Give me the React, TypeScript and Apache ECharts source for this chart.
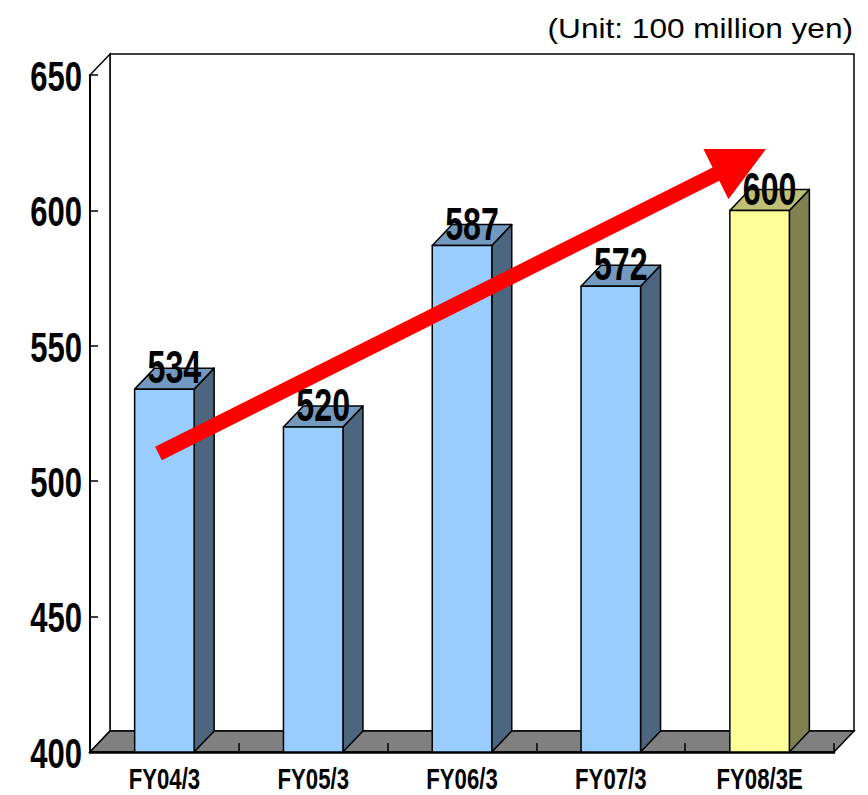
import React, { useEffect, useRef } from "react";
import * as echarts from "echarts";

// Fiscal years and sales (100 million yen); the last one is an estimate.
const categories = ["FY04/3", "FY05/3", "FY06/3", "FY07/3", "FY08/3E"];
const sales = [534, 520, 587, 572, 600];
const yTicks = [400, 450, 500, 550, 600, 650];
const unitLabel = "(Unit: 100 million yen)";

// Plot frame and pseudo-3D depth offset
const W = 868;
const H = 795;
const GL = 90;
const GT = 75;
const GR = 834;
const GB = 752;
const DX = 20;
const DY = -21;

const FONT = "'Liberation Sans', Arial, Helvetica, sans-serif";

const blueFaces = { front: "#99CCFF", side: "#4D6680", top: "#7399BF" };
const yellowFaces = { front: "#FFFF99", side: "#808050", top: "#BFBF73" };

// Condensed bold text (narrow face emulated with a horizontal scale)
function narrowText(x: number, y: number, text: string, fontSize: number, scaleX: number, align: string) {
  return {
    type: "text",
    x,
    y,
    scaleX,
    style: {
      text,
      fill: "#000",
      fontSize,
      fontWeight: "bold",
      fontFamily: FONT,
      align,
      verticalAlign: "middle",
    },
  };
}

function arrowPoints(sx: number, sy: number, tx: number, ty: number, shaft: number, headLen: number, headHalf: number) {
  const len = Math.hypot(tx - sx, ty - sy);
  const ux = (tx - sx) / len;
  const uy = (ty - sy) / len;
  const nx = -uy;
  const ny = ux;
  const bx = tx - ux * headLen;
  const by = ty - uy * headLen;
  const h = shaft / 2;
  return [
    [sx + nx * h, sy + ny * h],
    [bx + nx * h, by + ny * h],
    [bx + nx * headHalf, by + ny * headHalf],
    [tx, ty],
    [bx - nx * headHalf, by - ny * headHalf],
    [bx - nx * h, by - ny * h],
    [sx - nx * h, sy - ny * h],
  ];
}

export default function App() {
  const ref = useRef<HTMLDivElement>(null);

  useEffect(() => {
    if (!ref.current) return;
    const chart = echarts.init(ref.current, undefined, { renderer: "svg" });
    const yMin = yTicks[0];

    chart.setOption({
      animation: false,
      backgroundColor: "#ffffff",
      grid: { left: GL, top: GT, right: W - GR, bottom: H - GB, containLabel: false },
      xAxis: {
        type: "category",
        data: categories,
        z: 3,
        axisLine: { show: true, lineStyle: { color: "#000", width: 2.5 } },
        axisTick: { show: true, inside: true, length: 9, lineStyle: { color: "#000", width: 1.5 } },
        axisLabel: { show: false },
        splitLine: { show: false },
      },
      yAxis: {
        type: "value",
        min: yMin,
        max: yTicks[yTicks.length - 1],
        interval: yTicks[1] - yTicks[0],
        z: 3,
        axisLine: { show: true, lineStyle: { color: "#000", width: 2 } },
        axisTick: { show: true, inside: true, length: 8, lineStyle: { color: "#000", width: 1.5 } },
        axisLabel: { show: false },
        splitLine: { show: false },
      },
      graphic: [
        {
          type: "rect",
          z: 1,
          shape: { x: GL + DX, y: GT + DY, width: GR - GL, height: GB - GT },
          style: { fill: "#ffffff", stroke: "#000", lineWidth: 1.5 },
        },
        {
          type: "polygon",
          z: 1,
          shape: { points: [[GL, GT], [GL + DX, GT + DY], [GL + DX, GB + DY], [GL, GB]] },
          style: { fill: "#ffffff", stroke: "#000", lineWidth: 1.5 },
        },
        {
          type: "polygon",
          z: 1,
          shape: { points: [[GL, GB], [GL + DX, GB + DY], [GR + DX, GB + DY], [GR, GB]] },
          style: { fill: "#808080", stroke: "#000", lineWidth: 1.5 },
        },
        {
          type: "polygon",
          z: 10,
          shape: { points: arrowPoints(158.5, 453.5, 766, 149, 15, 56, 28) },
          style: { fill: "#FF0000" },
        },
        {
          type: "text",
          z: 10,
          x: 853,
          y: 28,
          scaleX: 1.17,
          style: {
            text: unitLabel,
            fill: "#000",
            fontSize: 27,
            fontFamily: FONT,
            align: "right",
            verticalAlign: "middle",
          },
        },
      ],
      series: [
        {
          // 3D bars with value and category labels
          type: "custom",
          z: 4,
          clip: false,
          data: sales.map((v, i) => [i, v]),
          renderItem: (params: any, api: any) => {
            const idx = api.value(0);
            const v = api.value(1);
            const top = api.coord([idx, v]);
            const base = api.coord([idx, yMin]);
            const bw = api.size([1, 0])[0] * 0.4;
            const x0 = top[0] - bw / 2;
            const x1 = top[0] + bw / 2;
            const yT = top[1];
            const yB = base[1];
            const faces = /E$/.test(categories[idx]) ? yellowFaces : blueFaces;
            const edge = { stroke: "#000", lineWidth: 1.5, lineJoin: "round" };
            return {
              type: "group",
              children: [
                {
                  type: "polygon",
                  shape: { points: [[x1, yT], [x1 + DX, yT + DY], [x1 + DX, yB + DY], [x1, yB]] },
                  style: { fill: faces.side, ...edge },
                },
                {
                  type: "polygon",
                  shape: { points: [[x0, yT], [x0 + DX, yT + DY], [x1 + DX, yT + DY], [x1, yT]] },
                  style: { fill: faces.top, ...edge },
                },
                {
                  type: "rect",
                  shape: { x: x0, y: yT, width: bw, height: yB - yT },
                  style: { fill: faces.front, ...edge },
                },
                narrowText(top[0] + DX / 2, yT - 22, String(v), 46, 0.7, "center"),
                narrowText(top[0], yB + 26.5, categories[idx], 30, 0.74, "center"),
              ],
            };
          },
        },
        {
          // value-axis tick labels
          type: "custom",
          z: 4,
          clip: false,
          data: yTicks.map((t) => [0, t]),
          renderItem: (params: any, api: any) => {
            const t = api.value(1);
            const p = api.coord([0, t]);
            return narrowText(params.coordSys.x - 8, p[1] + 1.5, String(t), 42, 0.74, "right");
          },
        },
      ],
    });

    return () => chart.dispose();
  }, []);

  return (
    <div
      ref={ref}
      style={{ position: "absolute", left: 0, top: 0, width: W, height: H }}
    />
  );
}
